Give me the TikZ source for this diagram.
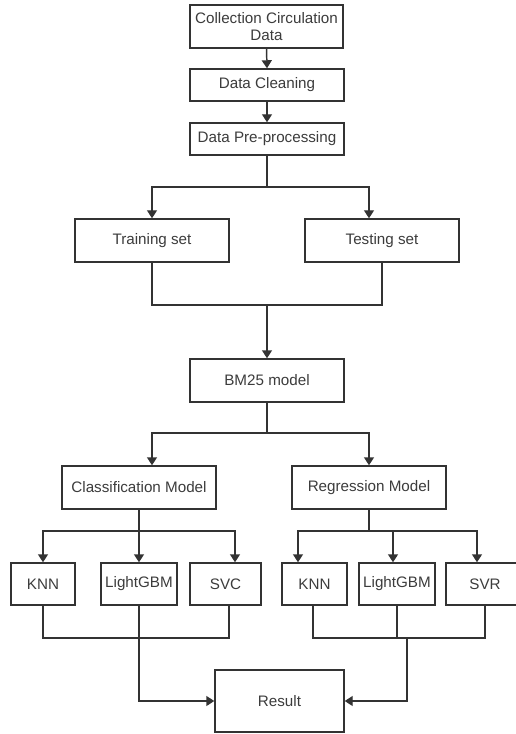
\documentclass[tikz,border=0pt]{standalone}
\usepackage{fontspec}
\setmainfont{Liberation Sans}
\usetikzlibrary{arrows.meta,calc}
\definecolor{lncol}{HTML}{333333}
\definecolor{txcol}{HTML}{3C3C3C}
\begin{document}
\begin{tikzpicture}[x=0.75pt,y=-0.75pt,
  box/.style={draw=lncol,line width=1.1pt,fill=white,inner sep=0pt,align=center,text=txcol,font=\fontsize{11.4}{13}\selectfont},
  conn/.style={draw=lncol,line width=1.1pt},
  arr/.style={conn,-{Triangle[length=6pt,width=7.5pt]}}]
\useasboundingbox (0,0) rectangle (516,734);
\clip (0,0) rectangle (516,734);
\fill[white] (0,0) rectangle (516,734);
% boxes
\node[box,minimum width=114.75pt,minimum height=32.25pt] (c1) at (266.5,26.5) {Collection Circulation\\Data};
\node[box,minimum width=115.5pt,minimum height=24pt] (c2) at (267,85) {Data Cleaning};
\node[box,minimum width=115.5pt,minimum height=24pt] (c3) at (267,139) {Data Pre-processing};
\node[box,minimum width=115.5pt,minimum height=32.25pt] (train) at (152,240.5) {Training set};
\node[box,minimum width=115.5pt,minimum height=32.25pt] (test) at (382,240.5) {Testing set};
\node[box,minimum width=115.5pt,minimum height=32.25pt] (bm25) at (267,380.5) {BM25 model};
\node[box,minimum width=115.5pt,minimum height=32.25pt] (class) at (139,487.5) {Classification Model};
\node[box,minimum width=115.5pt,minimum height=32.25pt] (regr) at (369,487.5) {Regression Model};
\node[box,minimum width=48pt,minimum height=31.5pt] (knn1) at (43,584) {KNN};
\node[box,minimum width=57pt,minimum height=31.5pt] (lgb1) at (139,584) {LightGBM};
\node[box,minimum width=53.25pt,minimum height=31.5pt] (svc) at (225.5,584) {SVC};
\node[box,minimum width=48.75pt,minimum height=31.5pt] (knn2) at (314.5,584) {KNN};
\node[box,minimum width=57pt,minimum height=31.5pt] (lgb2) at (397,584) {LightGBM};
\node[box,minimum width=58.5pt,minimum height=31.5pt] (svr) at (485,584) {SVR};
\node[box,minimum width=96.75pt,minimum height=46.5pt] (result) at (279.5,701) {Result};
% connectors
\draw[arr] (c1.south) -- (c2.north);
\draw[arr] (c2.south) -- (c3.north);
\coordinate (j1) at (267,187);
\draw[conn] (c3.south) -- (j1);
\draw[arr] (j1) -| (train.north);
\draw[arr] (j1) -| ($(test.north)+(-13,0)$);
\coordinate (j2) at (267,305);
\draw[conn] (train.south) |- (j2);
\draw[conn] (test.south) |- (j2);
\draw[arr] (j2) -- (bm25.north);
\coordinate (j3) at (267,433);
\draw[conn] (bm25.south) -- (j3);
\draw[arr] (j3) -| ($(class.north)+(13,0)$);
\draw[arr] (j3) -| (regr.north);
\coordinate (j4) at (139,531);
\draw[conn] (class.south) -- (j4);
\draw[arr] (j4) -| (knn1.north);
\draw[arr] (j4) -- (lgb1.north);
\draw[arr] (j4) -| ($(svc.north)+(9.5,0)$);
\coordinate (j5) at (369,531);
\draw[conn] (regr.south) -- (j5);
\draw[arr] (j5) -| ($(knn2.north)+(-16.5,0)$);
\draw[arr] (j5) -| ($(lgb2.north)+(-4,0)$);
\draw[arr] (j5) -| ($(svr.north)+(-8,0)$);
\coordinate (j6) at (139,638);
\draw[conn] (knn1.south) |- (j6);
\draw[conn] ($(svc.south)+(3.5,0)$) |- (j6);
\draw[arr] (lgb1.south) |- (result.west);
\coordinate (j7) at (407,638);
\draw[conn] ($(knn2.south)+(-1.5,0)$) |- (j7);
\draw[conn] (svr.south) |- (j7);
\draw[conn] (lgb2.south) -- (lgb2.south |- j7);
\draw[arr] (j7) |- (result.east);
\end{tikzpicture}
\end{document}
